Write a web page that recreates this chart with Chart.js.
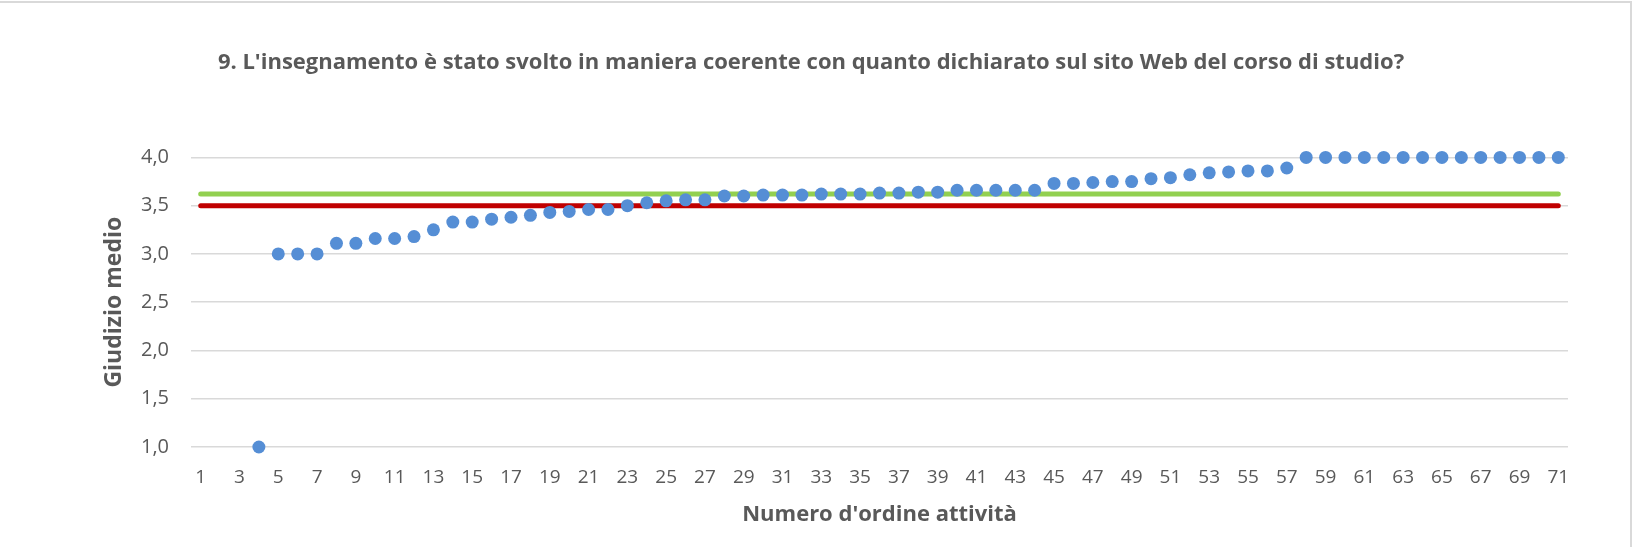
<!DOCTYPE html>
<html lang="it">
<head>
    <meta charset="UTF-8">
    <title>Giudizio medio - domanda 9</title>
    <script src="https://cdn.jsdelivr.net/npm/chart.js"></script>
    <style>
        body {
            margin: 0;
            padding: 0;
            background-color: white;
            overflow: hidden;
        }
        #chart-container {
            position: relative;
            width: 1639px;
            height: 547px;
        }
        /* light frame of the chart object, only top and right visible */
        #frame {
            position: absolute;
            left: -5px;
            top: 1px;
            width: 1637px;
            height: 600px;
            border: 2px solid #d9d9d9;
            box-sizing: border-box;
        }
    </style>
</head>
<body>
    <div id="chart-container">
        <div id="frame"></div>
        <canvas id="chart" width="1639" height="547"></canvas>
    </div>

    <script>
        // activity order numbers (x categories)
        var categories = ['1','2','3','4','5','6','7','8','9','10',
            '11','12','13','14','15','16','17','18','19','20',
            '21','22','23','24','25','26','27','28','29','30',
            '31','32','33','34','35','36','37','38','39','40',
            '41','42','43','44','45','46','47','48','49','50',
            '51','52','53','54','55','56','57','58','59','60',
            '61','62','63','64','65','66','67','68','69','70','71'];

        // average rating per activity (first three have no value)
        var scores = [null, null, null, 1.00, 3.00, 3.00, 3.00, 3.11, 3.11, 3.16,
            3.16, 3.18, 3.25, 3.33, 3.33, 3.36, 3.38, 3.40, 3.43, 3.44,
            3.46, 3.46, 3.50, 3.53, 3.55, 3.56, 3.56, 3.60, 3.60, 3.61,
            3.61, 3.61, 3.62, 3.62, 3.62, 3.63, 3.63, 3.64, 3.64, 3.66,
            3.66, 3.66, 3.66, 3.66, 3.73, 3.73, 3.74, 3.75, 3.75, 3.78,
            3.79, 3.82, 3.84, 3.85, 3.86, 3.86, 3.89, 4.00, 4.00, 4.00,
            4.00, 4.00, 4.00, 4.00, 4.00, 4.00, 4.00, 4.00, 4.00, 4.00, 4.00];

        // reference lines
        var greenLevel = 3.62;
        var redLevel = 3.5;

        // y tick values
        var yTicks = [1.0, 1.5, 2.0, 2.5, 3.0, 3.5, 4.0];

        var textColor = '#595959';
        var fontFamily = "'Open Sans', sans-serif";

        var ctx = document.getElementById('chart').getContext('2d');
        var first = categories[0];
        var last = categories[categories.length - 1];

        var chart = new Chart(ctx, {
            type: 'line',
            data: {
                labels: categories,
                datasets: [{
                    label: 'Giudizio medio',
                    data: scores,
                    showLine: false,
                    clip: false,
                    pointRadius: 6.5,
                    pointHoverRadius: 6.5,
                    pointBorderWidth: 0,
                    pointBackgroundColor: '#558ed5',
                    borderColor: '#558ed5',
                    order: 0
                }, {
                    label: 'green',
                    data: [{x: first, y: greenLevel}, {x: last, y: greenLevel}],
                    borderColor: '#92d050',
                    borderWidth: 5,
                    borderCapStyle: 'round',
                    pointRadius: 0,
                    order: 1
                }, {
                    label: 'red',
                    data: [{x: first, y: redLevel}, {x: last, y: redLevel}],
                    borderColor: '#c00000',
                    borderWidth: 5,
                    borderCapStyle: 'round',
                    pointRadius: 0,
                    order: 2
                }]
            },
            options: {
                responsive: false,
                animation: false,
                layout: {
                    padding: { left: 54, right: 71, top: 0, bottom: 0 }
                },
                plugins: {
                    legend: { display: false },
                    tooltip: { enabled: false },
                    title: {
                        display: true,
                        text: "9. L'insegnamento è stato svolto in maniera coerente con quanto dichiarato sul sito Web del corso di studio?",
                        color: textColor,
                        font: { family: fontFamily, size: 22, weight: 'bold' },
                        padding: { top: 50, bottom: 81 }
                    }
                },
                scales: {
                    x: {
                        type: 'category',
                        offset: true,
                        grid: { display: false, drawTicks: false },
                        border: { display: false },
                        ticks: {
                            autoSkip: false,
                            maxRotation: 0,
                            padding: 19,
                            color: textColor,
                            font: { family: fontFamily, size: 19 },
                            callback: function (value, index) {
                                return index % 2 === 0 ? categories[index] : '';
                            }
                        },
                        title: {
                            display: true,
                            text: "Numero d'ordine attività",
                            color: textColor,
                            font: { family: fontFamily, size: 22, weight: 'bold' },
                            padding: { top: 4, bottom: 19 }
                        },
                        afterFit: function (scale) {
                            scale.height = 100;
                        }
                    },
                    y: {
                        min: 1,
                        max: 4,
                        grid: { color: '#d9d9d9', lineWidth: 1.5, drawTicks: false },
                        border: { display: false },
                        afterBuildTicks: function (scale) {
                            scale.ticks = yTicks.map(function (v) { return { value: v }; });
                        },
                        ticks: {
                            padding: 22,
                            color: textColor,
                            font: { family: fontFamily, size: 20 },
                            callback: function (value) {
                                return value.toFixed(1).replace('.', ',');
                            }
                        },
                        title: {
                            display: true,
                            text: 'Giudizio medio',
                            color: textColor,
                            font: { family: fontFamily, size: 23, weight: 'bold' },
                            padding: { top: 47, bottom: 4 }
                        },
                        afterFit: function (scale) {
                            scale.width = 137;
                        }
                    }
                }
            }
        });
    </script>
</body>
</html>
